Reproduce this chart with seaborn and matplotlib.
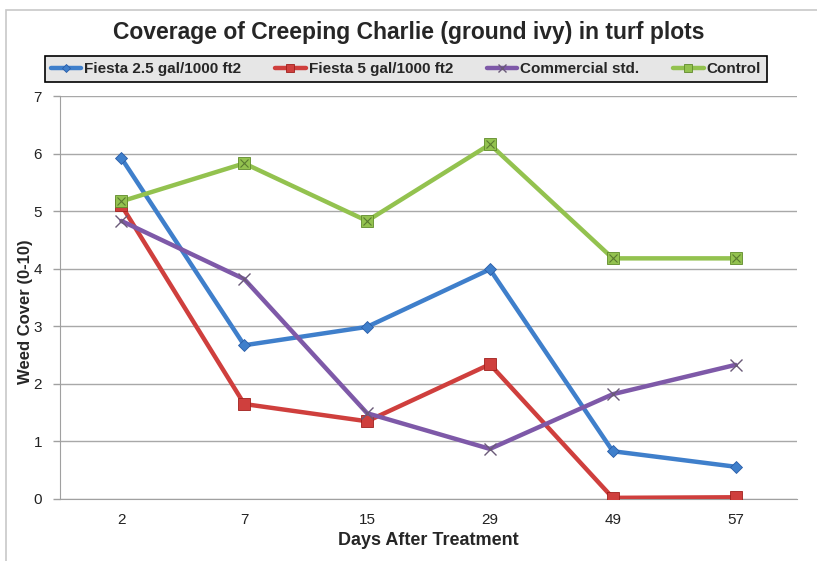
"""
Coverage of Creeping Charlie - line chart recreation
"""

import matplotlib.pyplot as plt
import matplotlib.patches as mpatches
import seaborn as sns
import pandas as pd

# data
days = ['2', '7', '15', '29', '49', '57']
fiesta_25 = [5.92, 2.67, 2.99, 3.99, 0.83, 0.56]
fiesta_5 = [5.10, 1.65, 1.35, 2.34, 0.02, 0.03]
commercial = [4.83, 3.82, 1.49, 0.87, 1.82, 2.33]
control = [5.17, 5.83, 4.83, 6.16, 4.18, 4.18]

series_names = ['Fiesta 2.5 gal/1000 ft2', 'Fiesta 5 gal/1000 ft2', 'Commercial std.', 'Control']
series_values = [fiesta_25, fiesta_5, commercial, control]
colors = ['#3f7fcb', '#cf3f3d', '#7e59a8', '#93c24f']
edge_colors = ['#2a5da8', '#a0201c', '#6a4e8a', '#5f8a2a']
markers = ['D', 's', 'x', 's']
msizes = [6, 8, 9, 8]

sns.set_style("white")
plt.rcParams['font.family'] = ['Liberation Sans', 'DejaVu Sans']

fig = plt.figure(figsize=(8.17, 5.61), dpi=100)
ax = fig.add_axes([60 / 817, 62 / 561, 737 / 817, 403 / 561])

# outer chart border
fig.patches.append(mpatches.Rectangle((6 / 817, -0.01), 1.0, 1 - 10 / 561 + 0.01,
                                      transform=fig.transFigure, fill=False,
                                      edgecolor='#c8c8c8', linewidth=1.2))

rows = []
for name, vals in zip(series_names, series_values):
    for i, v in enumerate(vals):
        rows.append({'series': name, 'pos': i, 'cover': v})
df = pd.DataFrame(rows)

for name, col, ec, mk, ms in zip(series_names, colors, edge_colors, markers, msizes):
    sub = df[df['series'] == name]
    if mk == 'x':
        sns.lineplot(data=sub, x='pos', y='cover', ax=ax, color=col, linewidth=3.2,
                     marker=mk, markersize=ms, markeredgecolor='#6a5a78',
                     markeredgewidth=1.0, label=name, zorder=3)
    else:
        sns.lineplot(data=sub, x='pos', y='cover', ax=ax, color=col, linewidth=3.2,
                     marker=mk, markersize=ms, markeredgecolor=ec,
                     markeredgewidth=0.6, label=name, zorder=3)
    if name == 'Control':
        # the x drawn inside the square markers
        ax.plot(sub['pos'], sub['cover'], linestyle='none', marker='x',
                markersize=6, color='#5a7a30', markeredgewidth=0.8, zorder=4)

ax.set_xlim(-0.5, 5.5)
ax.set_ylim(0, 7)
ax.set_xticks(range(len(days)))
ax.set_xticklabels(days)
ax.set_yticks(range(0, 8))
ax.tick_params(axis='x', length=0, labelsize=11, pad=10)
ax.tick_params(axis='y', length=5, width=1, color='#a0a0a0', labelsize=11,
               pad=8, left=True)
for lbl in ax.get_xticklabels() + ax.get_yticklabels():
    lbl.set_color('#222222')
ax.grid(True, axis='y', color='#a8a8a8', linewidth=1.0)
ax.set_axisbelow(True)
for side in ['top', 'right']:
    ax.spines[side].set_visible(False)
ax.spines['left'].set_color('#a0a0a0')
ax.spines['bottom'].set_color('#a0a0a0')

ax.set_xlabel('Days After Treatment', fontsize=13, fontweight='bold', labelpad=4)
ax.set_ylabel('Weed Cover (0-10)', fontsize=12, fontweight='bold')
ax.yaxis.set_label_coords(-0.037, 0.466)

fig.text(0.5, 1 - 33 / 561, 'Coverage of Creeping Charlie (ground ivy) in turf plots',
         ha='center', va='center', fontsize=16.5, fontweight='bold')

leg = ax.legend(loc='center', bbox_to_anchor=(406 / 817, 1 - 69 / 561),
                bbox_transform=fig.transFigure, ncol=4, frameon=True,
                fancybox=False, edgecolor='black', facecolor='#e6e6e6',
                fontsize=11, handlelength=2.0, handletextpad=0.2,
                columnspacing=2.2, borderpad=0.4, markerscale=0.7)
leg.get_frame().set_linewidth(1.2)
leg.get_frame().set_alpha(1)
for txt in leg.get_texts():
    txt.set_fontweight('bold')

plt.savefig('out.png', dpi=100)
plt.close()
